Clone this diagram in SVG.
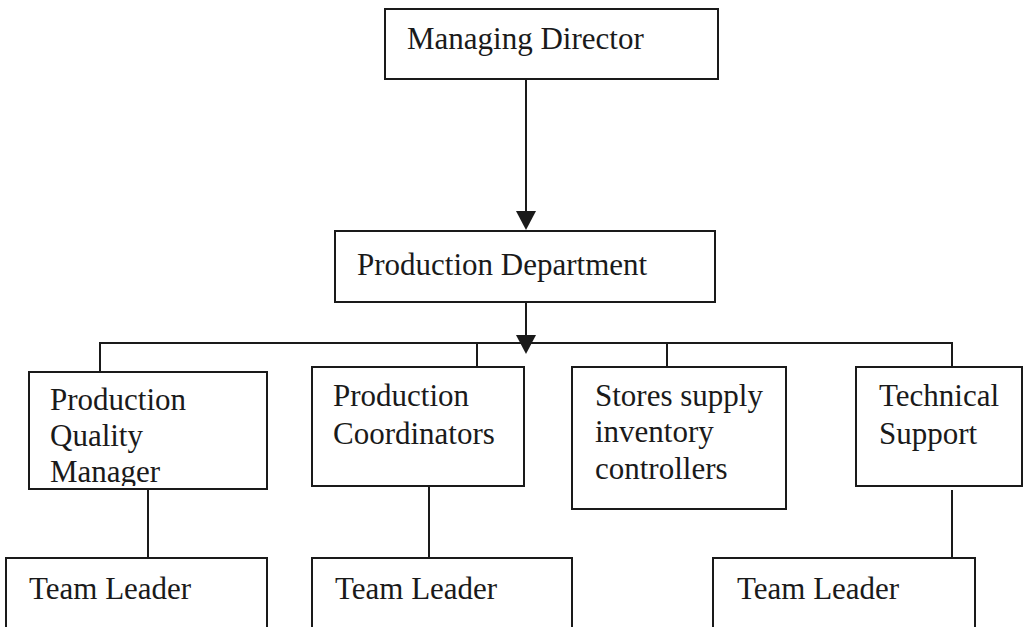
<svg xmlns="http://www.w3.org/2000/svg" width="1026" height="627" viewBox="0 0 1026 627">
  <style>
    .box { fill: #ffffff; stroke: #1a1a1a; stroke-width: 2; }
    .lbl { font-family: "Liberation Serif", "Times New Roman", serif; font-size: 31px; fill: #1a1a1a; }
    .ln { stroke: #1a1a1a; stroke-width: 2; fill: none; }
    .ah { fill: #1a1a1a; stroke: none; }
  </style>
  <defs>
    <clipPath id="pqmClip">
      <rect x="29" y="372" width="238" height="114"/>
    </clipPath>
  </defs>
  <rect width="1026" height="627" fill="#ffffff"/>

  <g id="connectors">
    <line class="ln" x1="526" y1="79" x2="526" y2="214"/>
    <polygon class="ah" points="516,211 536,211 526,230"/>
    <line class="ln" x1="526" y1="302" x2="526" y2="338"/>
    <polygon class="ah" points="516,335 536,335 526,354"/>
    <polyline class="ln" points="100,372 100,343 952,343 952,367"/>
    <line class="ln" x1="477" y1="343" x2="477" y2="367"/>
    <line class="ln" x1="667" y1="343" x2="667" y2="367"/>
    <line class="ln" x1="148" y1="489" x2="148" y2="558"/>
    <line class="ln" x1="429" y1="486" x2="429" y2="558"/>
    <line class="ln" x1="952" y1="490" x2="952" y2="562"/>
  </g>

  <g id="managing-director">
    <rect class="box" x="385" y="9" width="333" height="70"/>
    <text class="lbl" x="407" y="49">Managing Director</text>
  </g>

  <g id="production-department">
    <rect class="box" x="335" y="231" width="380" height="71"/>
    <text class="lbl" x="357" y="275">Production Department</text>
  </g>

  <g id="production-quality-manager">
    <rect class="box" x="29" y="372" width="238" height="117"/>
    <g clip-path="url(#pqmClip)">
      <text class="lbl" x="50" y="410">Production</text>
      <text class="lbl" x="50" y="446">Quality</text>
      <text class="lbl" x="50" y="482">Manager</text>
    </g>
  </g>

  <g id="production-coordinators">
    <rect class="box" x="312" y="367" width="212" height="119"/>
    <text class="lbl" x="333" y="406">Production</text>
    <text class="lbl" x="333" y="444">Coordinators</text>
  </g>

  <g id="stores-supply">
    <rect class="box" x="572" y="367" width="214" height="142"/>
    <text class="lbl" x="595" y="406">Stores supply</text>
    <text class="lbl" x="595" y="442">inventory</text>
    <text class="lbl" x="595" y="479">controllers</text>
  </g>

  <g id="technical-support">
    <rect class="box" x="856" y="367" width="166" height="119"/>
    <text class="lbl" x="879" y="406">Technical</text>
    <text class="lbl" x="879" y="444">Support</text>
  </g>

  <g id="team-leader-1">
    <rect class="box" x="6" y="558" width="261" height="80"/>
    <text class="lbl" x="29" y="599">Team Leader</text>
  </g>

  <g id="team-leader-2">
    <rect class="box" x="312" y="558" width="260" height="80"/>
    <text class="lbl" x="335" y="599">Team Leader</text>
  </g>

  <g id="team-leader-3">
    <rect class="box" x="713" y="558" width="262" height="80"/>
    <text class="lbl" x="737" y="599">Team Leader</text>
  </g>
</svg>
